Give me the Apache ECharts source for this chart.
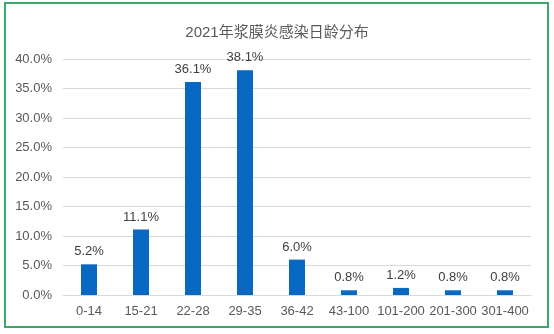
<!DOCTYPE html>
<html>
<head>
<meta charset="utf-8">
<script src="https://cdn.jsdelivr.net/npm/echarts@6/dist/echarts.min.js"></script>
<style>
  html, body { margin: 0; padding: 0; background: #ffffff; }
  #chart { width: 554px; height: 334px; }
</style>
</head>
<body>
<div id="chart"></div>
<script>
// Age groups (days) and share of serositis infections, 2021
const ageGroups = ['0-14', '15-21', '22-28', '29-35', '36-42', '43-100', '101-200', '201-300', '301-400'];
const sharePct = [5.2, 11.1, 36.1, 38.1, 6.0, 0.8, 1.2, 0.8, 0.8];
const titleText = '2021年浆膜炎感染日龄分布';

const chart = echarts.init(document.getElementById('chart'), null, { renderer: 'canvas' });
const font = 'Arial, "Liberation Sans", "Noto Sans CJK SC", sans-serif';

chart.setOption({
  backgroundColor: '#ffffff',
  animation: false,
  title: {
    text: titleText,
    left: 'center',
    top: 20,
    textStyle: { fontFamily: font, fontSize: 15, fontWeight: 'normal', color: '#595959' }
  },
  graphic: [{
    type: 'rect',
    shape: { x: 5, y: 3, width: 543, height: 324 },
    style: { fill: 'none', stroke: '#3aa86a', lineWidth: 2 },
    z: 100
  }],
  grid: { left: 63, right: 23, top: 59, bottom: 39 },
  xAxis: {
    type: 'category',
    data: ageGroups,
    axisLine: { lineStyle: { color: '#d9d9d9', width: 1 } },
    axisTick: { show: false },
    axisLabel: { fontFamily: font, fontSize: 13, color: '#595959', margin: 10, interval: 0 }
  },
  yAxis: {
    type: 'value',
    min: 0,
    max: 40,
    interval: 5,
    axisLine: { show: false },
    axisTick: { show: false },
    splitLine: { lineStyle: { color: '#d9d9d9', width: 1 } },
    axisLabel: {
      fontFamily: font, fontSize: 13, color: '#595959', margin: 11,
      formatter: v => v.toFixed(1) + '%'
    }
  },
  series: [{
    type: 'bar',
    data: sharePct,
    barWidth: 16,
    itemStyle: { color: '#0868c1' },
    label: {
      show: true,
      position: 'top',
      distance: 6,
      fontFamily: font,
      fontSize: 13,
      color: '#404040',
      formatter: p => p.value.toFixed(1) + '%'
    }
  }]
});
</script>
</body>
</html>
